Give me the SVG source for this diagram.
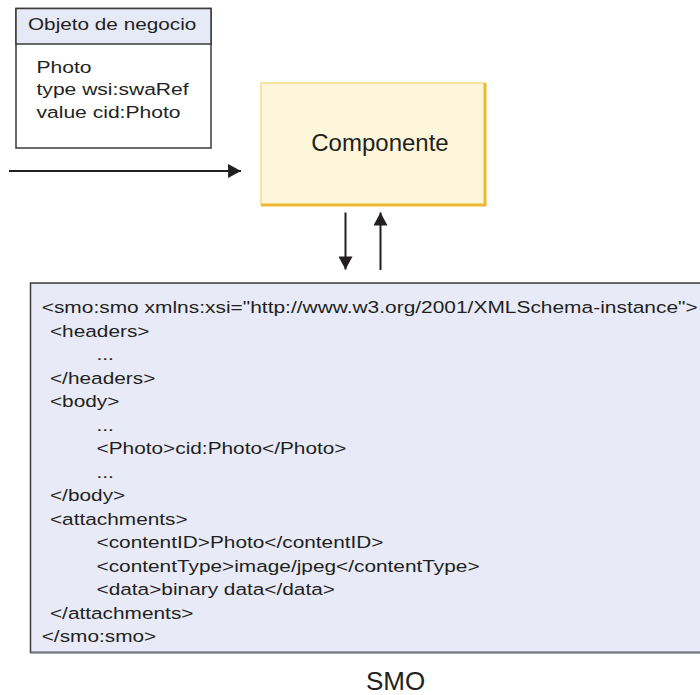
<svg xmlns="http://www.w3.org/2000/svg" width="700" height="695" viewBox="0 0 700 695">
  <style>
    .t { font-family: "Liberation Sans", Arial, sans-serif; fill: #231f20; }
    .s17 { font-size: 17px; }
    .conn { stroke: #231f20; stroke-width: 2; fill: none; }
  </style>
  <defs>
    <marker id="ah" markerUnits="userSpaceOnUse" markerWidth="14" markerHeight="14" viewBox="0 0 12 13" refX="12" refY="6.5" orient="auto">
      <path d="M0,0 L12,6.5 L0,13 Z" fill="#231f20"/>
    </marker>
  </defs>
  <rect width="700" height="695" fill="#ffffff"/>

  <g id="business-object">
    <rect x="16" y="8.5" width="195" height="139.5" fill="#ffffff" stroke="#3a3a3a" stroke-width="1.5"/>
    <rect x="16" y="8.5" width="195" height="35.5" fill="#e6eaf7" stroke="#3a3a3a" stroke-width="1.5"/>
    <g transform="scale(1.22,1)">
      <text class="t s17" x="22.95" y="30">Objeto de negocio</text>
    </g>
    <g transform="scale(1.24,1)">
      <text class="t s17" x="29.44" y="72.7">Photo</text>
      <text class="t s17" x="29.44" y="95.2">type wsi:swaRef</text>
      <text class="t s17" x="29.44" y="117.7">value cid:Photo</text>
    </g>
  </g>

  <g id="componente">
    <rect x="261" y="83" width="224" height="122" fill="#fdf6da" stroke="#f6dc90" stroke-width="1.5"/>
    <path d="M485,83 L485,205 L261,205" fill="none" stroke="#efb832" stroke-width="3"/>
    <text class="t" x="380" y="151" font-size="24" text-anchor="middle">Componente</text>
  </g>

  <g id="smo">
    <rect x="30.5" y="283" width="680" height="369.5" fill="#e8ebf7" stroke="#3a3a3a" stroke-width="1.5"/>
    <line x1="30.5" y1="652.5" x2="702" y2="652.5" stroke="#7c7c84" stroke-width="2"/>
    <g transform="scale(1.225,1)">
      <text class="t s17" x="34.04" y="313.3" textLength="535.5" lengthAdjust="spacingAndGlyphs">&lt;smo:smo xmlns:xsi="http://www.w3.org/2001/XMLSchema-instance"&gt;</text>
      <text class="t s17" x="40.8" y="336.8">&lt;headers&gt;</text>
      <text class="t s17" x="78.8" y="360.3">...</text>
      <text class="t s17" x="40.8" y="383.8">&lt;/headers&gt;</text>
      <text class="t s17" x="40.8" y="407.3">&lt;body&gt;</text>
      <text class="t s17" x="78.8" y="430.8">...</text>
      <text class="t s17" x="78.8" y="454.3">&lt;Photo&gt;cid:Photo&lt;/Photo&gt;</text>
      <text class="t s17" x="78.8" y="477.8">...</text>
      <text class="t s17" x="40.8" y="501.3">&lt;/body&gt;</text>
      <text class="t s17" x="40.8" y="524.8">&lt;attachments&gt;</text>
      <text class="t s17" x="78.8" y="548.3">&lt;contentID&gt;Photo&lt;/contentID&gt;</text>
      <text class="t s17" x="78.8" y="571.8">&lt;contentType&gt;image/jpeg&lt;/contentType&gt;</text>
      <text class="t s17" x="78.8" y="595.3">&lt;data&gt;binary data&lt;/data&gt;</text>
      <text class="t s17" x="40.8" y="618.8">&lt;/attachments&gt;</text>
      <text class="t s17" x="34.04" y="642.3">&lt;/smo:smo&gt;</text>
    </g>
  </g>

  <g id="smo-label">
    <text class="t" x="395.5" y="690" font-size="26" text-anchor="middle">SMO</text>
  </g>

  <g id="connectors">
    <line class="conn" x1="9" y1="171" x2="241" y2="171" marker-end="url(#ah)"/>
    <line class="conn" x1="345.5" y1="212.5" x2="345.5" y2="269.5" marker-end="url(#ah)"/>
    <line class="conn" x1="380.5" y1="270" x2="380.5" y2="212.5" marker-end="url(#ah)"/>
  </g>
</svg>
